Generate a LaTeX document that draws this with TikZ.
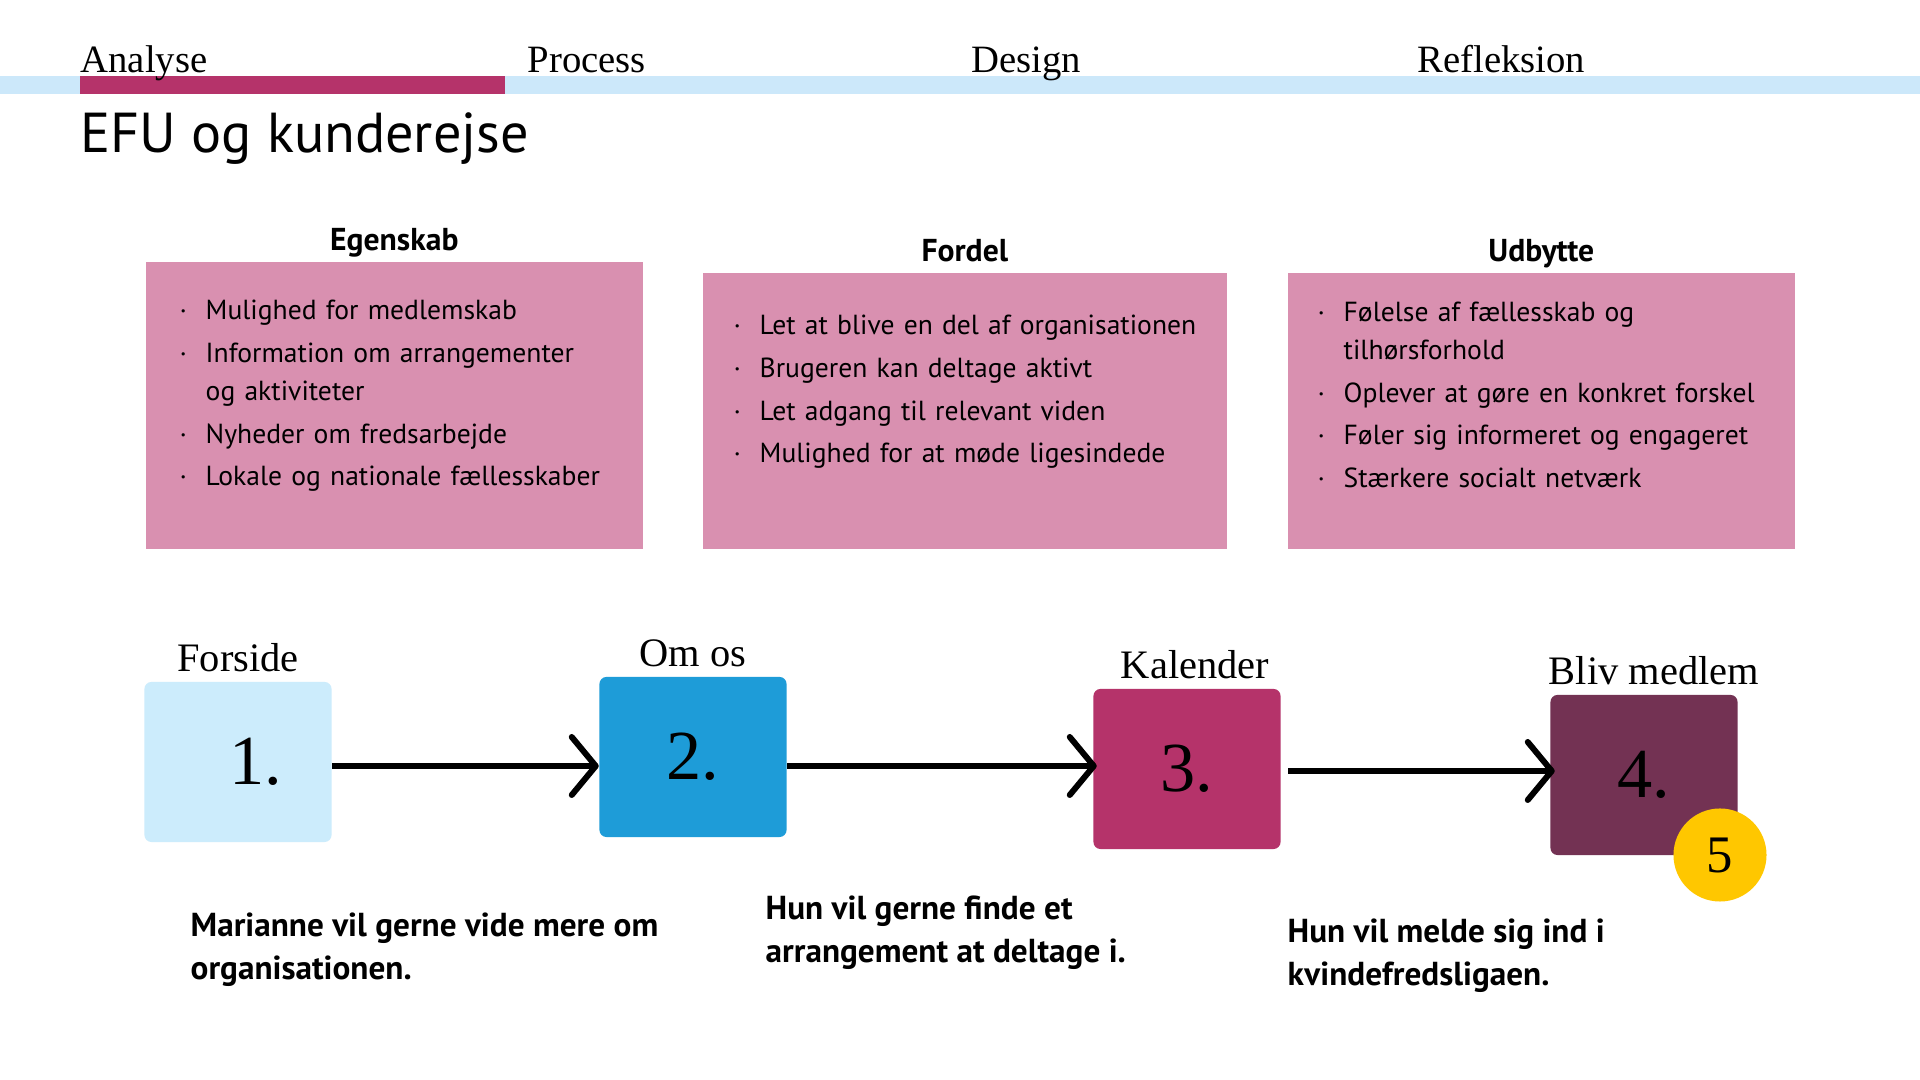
\documentclass[tikz,border=0pt]{standalone}
\usepackage{fontspec}
\setmainfont{PT Sans}
\newfontfamily\seriffont{Liberation Serif}
\usetikzlibrary{arrows.meta, positioning}

\definecolor{bandblue}{HTML}{CCE8FA}
\definecolor{barred}{HTML}{B5336A}
\definecolor{boxpink}{HTML}{D990B0}
\definecolor{stepone}{HTML}{CCECFC}
\definecolor{steptwo}{HTML}{1E9CD8}
\definecolor{stepthree}{HTML}{B5336A}
\definecolor{stepfour}{HTML}{733253}
\definecolor{gold}{HTML}{FFC700}

\newcommand{\bitem}[1]{\noindent\hangindent=0.26cm\hangafter=1\makebox[0.26cm][l]{\textperiodcentered}#1\par\vspace{1.4pt}}

\begin{document}
\begin{tikzpicture}[x=0.01cm, y=-0.01cm,
  tab/.style={anchor=base west, inner sep=0, font=\seriffont\fontsize{11}{14}\selectfont},
  pinkbox/.style={fill=boxpink, anchor=north west, inner sep=0},
  head/.style={inner sep=0, text depth=0pt, font=\bfseries\fontsize{9}{11}\selectfont},
  list/.style={anchor=north west, inner sep=0, text width=5.6cm, align=left,
    font=\fontsize{7.85}{10.8}\selectfont},
  stepnode/.style={rounded corners=2pt, minimum width=1.87cm, minimum height=1.60cm,
    inner sep=0, font=\seriffont\fontsize{20}{24}\selectfont},
  steplab/.style={inner sep=0, font=\seriffont\fontsize{11.5}{14}\selectfont},
  story/.style={anchor=north west, inner sep=0, align=left,
    font=\bfseries\fontsize{9.45}{12.2}\selectfont},
  flow/.style={line width=1.7pt, -{Straight Barb[length=0.24cm, width=0.58cm, round]}}]
  \useasboundingbox[fill=white](0,0) rectangle (1920,1080);

  \fill[bandblue](0,76) rectangle (1920,94);
  \fill[barred](80,76) rectangle (505,94);
  \node[tab] (analyse) at (80,73) {Analyse};
  \node[tab] (process) at (527,73) {Process};
  \node[tab] (design) at (971,73) {Design};
  \node[tab] (refleksion) at (1417,73) {Refleksion};
  \node[anchor=base west, inner sep=0, font=\fontsize{16}{19}\selectfont] (title) at (80,153) {EFU og kunderejse};

  \node[pinkbox, minimum width=4.97cm, minimum height=2.87cm] (egenskab) at (145,261) {};
  \node[pinkbox, minimum width=5.24cm, minimum height=2.76cm] (fordel) at (702,272) {};
  \node[pinkbox, minimum width=5.07cm, minimum height=2.76cm] (udbytte) at (1287,272) {};
  \node[head, above=0.1cm of egenskab] (h1) {Egenskab};
  \node[head, above=0.1cm of fordel] (h2) {Fordel};
  \node[head, above=0.1cm of udbytte] (h3) {Udbytte};

  \node[list] (l1) at (179,299) {
    \bitem{Mulighed for medlemskab}
    \bitem{Information om arrangementer\newline og aktiviteter}
    \bitem{Nyheder om fredsarbejde}
    \bitem{Lokale og nationale fællesskaber}};
  \node[list] (l2) at (733,314) {
    \bitem{Let at blive en del af organisationen}
    \bitem{Brugeren kan deltage aktivt}
    \bitem{Let adgang til relevant viden}
    \bitem{Mulighed for at møde ligesindede}};
  \node[list] (l3) at (1317,301) {
    \bitem{Følelse af fællesskab og\newline tilhørsforhold}
    \bitem{Oplever at gøre en konkret forskel}
    \bitem{Føler sig informeret og engageret}
    \bitem{Stærkere socialt netværk}};

  \node[stepnode, fill=stepone] (n1) at (238,762) {\hspace{0.36cm}1.};
  \node[stepnode, fill=steptwo] (n2) at (693,757) {2.};
  \node[stepnode, fill=stepthree] (n3) at (1187,769) {3.};
  \node[stepnode, fill=stepfour] (n4) at (1644,775) {4.};
  \node[circle, fill=gold, minimum size=0.93cm, inner sep=0,
    font=\seriffont\fontsize{15}{18}\selectfont] (five) at (1720,855) {5};

  \node[steplab, above=0.09cm of n1] (t1) {Forside};
  \node[steplab, above=0.09cm of n2] (t2) {Om os};
  \node[steplab, above=0.09cm of n3, xshift=0.08cm] (t3) {Kalender};
  \node[steplab, above=0.09cm of n4, xshift=0.1cm] (t4) {Bliv medlem};

  \draw[flow](n1.east |- 0,766)--(n2.west |- 0,766);
  \draw[flow](n2.east |- 0,766)--([xshift=0.04cm]n3.west |- 0,766);
  \draw[flow]([xshift=0.07cm]n3.east |- 0,771)--([xshift=0.05cm]n4.west |- 0,771);

  \node[story] (s1) at (190,912) {Marianne vil gerne vide mere om\\organisationen.};
  \node[story] (s2) at (765,895) {Hun vil gerne finde et\\arrangement at deltage i.};
  \node[story] (s3) at (1287,918) {Hun vil melde sig ind i\\kvindefredsligaen.};
\end{tikzpicture}
\end{document}
